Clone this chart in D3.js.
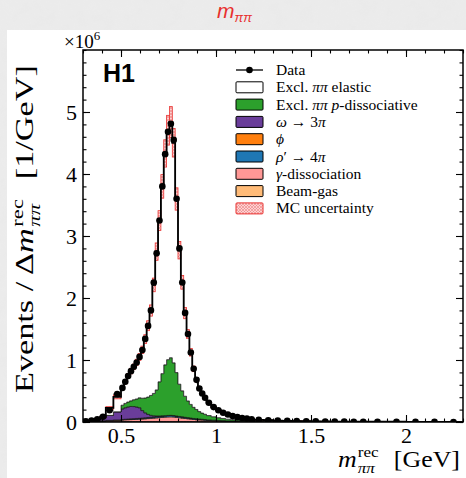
<!DOCTYPE html>
<html>
<head>
<meta charset="utf-8">
<script src="https://cdn.jsdelivr.net/npm/d3@7"></script>
<style>
  body { margin: 0; background: #e8e8e8; }
  svg { display: block; }
</style>
</head>
<body>
<svg id="chart" width="466" height="478"></svg>
<script>
// bin edges in GeV (variable binning)
var edges = [0.30,0.33,0.36,0.39,0.42,0.46,0.50,
  0.515,0.53,0.545,0.56,0.575,0.59,0.605,0.62,0.635,0.65,0.665,0.68,0.695,0.71,
  0.725,0.74,0.755,0.77,0.785,0.80,0.815,0.83,0.845,0.86,0.875,0.89,0.905,0.92,0.935,0.95,
  0.975,1.00,1.025,1.05,1.075,1.10,1.125,1.15,1.175,1.20,
  1.25,1.30,1.35,1.40,1.45,1.50,1.55,1.60,1.65,1.70,1.75,1.80,
  1.90,2.00,2.10,2.20,2.30];

// all values in units of 10^6 events / GeV
var data = [0.012,0.022,0.045,0.085,0.19,0.45,
  0.55,0.65,0.74,0.82,0.89,0.96,1.05,1.16,1.34,1.55,1.80,2.25,2.72,3.25,3.80,4.32,4.68,4.81,4.55,3.60,2.80,2.25,1.76,1.42,1.12,0.86,0.68,0.54,0.46,0.39,
  0.31,0.24,0.19,0.15,0.12,0.095,0.08,0.065,0.055,0.045,
  0.035,0.028,0.022,0.018,0.015,0.012,0.010,0.008,0.007,0.006,0.005,0.004,
  0.003,0.002,0.002,0.0015,0.001];

var elastic = [0.004,0.005,0.012,0.025,0.12,0.24,
  0.28,0.35,0.42,0.48,0.53,0.59,0.66,0.78,0.95,1.15,1.37,1.75,2.23,2.60,3.02,3.41,3.70,3.80,3.55,2.80,2.16,1.75,1.34,1.08,0.84,0.62,0.48,0.37,0.31,0.265,
  0.205,0.155,0.12,0.093,0.074,0.057,0.047,0.038,0.032,0.025,
  0.019,0.015,0.011,0.009,0.007,0.005,0.004,0.003,0.002,0.002,0.001,0.001,
  0.001,0.001,0.001,0.0005,0.0005];

var pDiss = [0,0,0,0,0,0,
  0.06,0.07,0.08,0.09,0.11,0.13,0.16,0.20,0.24,0.28,0.32,0.36,0.42,0.55,0.68,0.82,0.90,0.93,0.85,0.70,0.52,0.42,0.34,0.27,0.22,0.18,0.15,0.12,0.10,0.085,
  0.07,0.055,0.045,0.035,0.028,0.022,0.018,0.015,0.012,0.010,
  0.008,0.006,0.005,0.004,0.003,0.003,0.002,0.002,0.002,0.001,0.001,0.001,
  0.001,0.001,0.0005,0,0];

var omega = [0.003,0.008,0.02,0.04,0.08,0.13,
  0.17,0.185,0.195,0.20,0.195,0.185,0.17,0.12,0.08,0.05,0.03,0.018,0.01,0.005,0.002,0,0,0,0,0,0,0,0,0,0,0,0,0,0,0,
  0,0,0,0,0,0,0,0,0,0,
  0,0,0,0,0,0,0,0,0,0,0,0,
  0,0,0,0,0];

var phi = [0.002,0.003,0.004,0.004,0.004,0.004,
  0.003,0.003,0.003,0.003,0.003,0.003,0.003,0.003,0.003,0.003,0.003,0.003,0.003,0.003,0.003,
  0.002,0.002,0.002,0.002,0.002,0.002,0.002,0.002,0.002,0.002,0.002,0.002,0.002,0.002,0.002,
  0.001,0.001,0.001,0.001,0.001,0.001,0.001,0.001,0.001,0.001,
  0,0,0,0,0,0,0,0,0,0,0,0,
  0,0,0,0,0];

var rhoPrime = [0,0,0.001,0.002,0.003,0.004,
  0.006,0.007,0.008,0.009,0.010,0.011,0.012,0.013,0.014,0.015,0.016,0.017,0.018,0.019,0.020,0.021,0.022,0.022,0.021,0.020,0.019,0.018,0.017,0.016,0.015,0.014,0.013,0.012,0.011,0.010,
  0.009,0.008,0.007,0.006,0.005,0.004,0.004,0.003,0.003,0.003,
  0.002,0.002,0.002,0.002,0.002,0.002,0.001,0.001,0.001,0.001,0.001,0.001,
  0.001,0.001,0,0,0];

var gammaDiss = [0.002,0.004,0.006,0.010,0.015,0.020,
  0.025,0.028,0.030,0.032,0.034,0.036,0.038,0.041,0.044,0.048,0.052,0.056,0.060,0.064,0.068,0.072,0.075,0.076,0.074,0.068,0.062,0.056,0.050,0.045,0.040,0.035,0.031,0.028,0.025,0.022,
  0.019,0.016,0.013,0.011,0.009,0.008,0.007,0.006,0.005,0.004,
  0.004,0.003,0.003,0.002,0.002,0.002,0.001,0.001,0.001,0.001,0.001,0.001,
  0.001,0.001,0,0,0];

var beamGas = [0.001,0.002,0.003,0.004,0.005,0.006,
  0.007,0.007,0.007,0.007,0.007,0.007,0.007,0.007,0.007,0.007,0.007,0.007,0.007,0.007,0.007,0.007,0.007,0.007,0.007,0.007,0.007,0.007,0.007,0.007,0.007,
  0.006,0.006,0.006,0.006,0.006,
  0.005,0.005,0.004,0.004,0.003,0.003,0.003,0.002,0.002,0.002,
  0.002,0.002,0.001,0.001,0.001,0.001,0.001,0.001,0.001,0.001,0.001,0.001,
  0.001,0.001,0.001,0.001,0.001];

var mcErr = [0.002,0.003,0.005,0.008,0.02,0.03,
  0.03,0.035,0.04,0.045,0.045,0.05,0.055,0.06,0.07,0.08,0.09,0.11,0.14,0.16,0.19,0.22,0.24,0.25,0.23,0.18,0.14,0.11,0.09,0.07,0.06,0.045,0.035,0.03,0.025,0.02,
  0.018,0.014,0.011,0.009,0.007,0.006,0.005,0.004,0.004,0.003,
  0.003,0.002,0.002,0.002,0.001,0.001,0.001,0.001,0.001,0.001,0.001,0.001,
  0.001,0.001,0.001,0.001,0.001];

var xTicks = [0.5, 1, 1.5, 2];
var xTickLabels = ["0.5", "1", "1.5", "2"];
var yTicks = [0, 1, 2, 3, 4, 5];

var legendLabels = ["Data", "Excl. *ππ* elastic", "Excl. *ππ* *p*-dissociative", "*ω* → 3*π*",
  "*ϕ*", "*ρ*′ → 4*π*", "*γ*-dissociation", "Beam-gas", "MC uncertainty"];

// stack order, bottom to top
var keys = ["beamGas", "gammaDiss", "rhoPrime", "phi", "omega", "pDiss", "elastic"];
var components = {
  beamGas: beamGas, gammaDiss: gammaDiss, rhoPrime: rhoPrime, phi: phi,
  omega: omega, pDiss: pDiss, elastic: elastic
};
var colors = {
  beamGas: "#ffbb78", gammaDiss: "#ff9896", rhoPrime: "#1f77b4", phi: "#ff7f0e",
  omega: "#6a3d9a", pDiss: "#2ca02c", elastic: "#ffffff"
};
var legendKeys = [null, "elastic", "pDiss", "omega", "phi", "rhoPrime", "gammaDiss", "beamGas", "mc"];

(function() {
  var serif = "'Liberation Serif', 'Times New Roman', serif";

  var svg = d3.select("#chart");
  var width = 466, height = 478;
  var pl = 83, pr = 463, pt = 50, pb = 422;

  var x = d3.scaleLinear().domain([0.3, 2.3]).range([pl, pr]);
  var y = d3.scaleLinear().domain([0, 6]).range([pb, pt]);

  var defs = svg.append("defs");
  var grain = defs.append("filter").attr("id", "grain");
  grain.append("feTurbulence").attr("type", "fractalNoise").attr("baseFrequency", 0.07)
    .attr("numOctaves", 3).attr("seed", 4);
  grain.append("feColorMatrix").attr("type", "matrix")
    .attr("values", "0 0 0 0 0.78  0 0 0 0 0.78  0 0 0 0 0.78  0 0 0 0.55 0");

  var hatch = defs.append("pattern").attr("id", "hatch").attr("patternUnits", "userSpaceOnUse")
    .attr("width", 3).attr("height", 3);
  hatch.append("rect").attr("width", 3).attr("height", 3).attr("fill", "#fbd4d4");
  hatch.append("path").attr("d", "M0,3L3,0M0,0L3,3").attr("stroke", "#f08080").attr("stroke-width", 0.6);

  defs.append("clipPath").attr("id", "plot-clip").append("rect")
    .attr("x", pl).attr("y", pt).attr("width", pr - pl).attr("height", pb - pt);

  // slide background
  svg.append("rect").attr("width", width).attr("height", height).attr("fill", "#ececec");
  svg.append("rect").attr("width", width).attr("height", height).attr("filter", "url(#grain)").attr("opacity", 0.5);
  svg.append("rect").attr("x", 7).attr("y", 30).attr("width", width - 7).attr("height", height - 30).attr("fill", "#ffffff");

  // title
  var title = svg.append("text").attr("x", 217).attr("y", 18)
    .attr("font-family", "'Liberation Sans', Arial, sans-serif").attr("fill", "#e8302e")
    .attr("font-style", "italic");
  title.append("tspan").attr("font-size", 21).text("m");
  title.append("tspan").attr("font-size", 13).attr("dy", 4).text("ππ");

  // stacked histograms
  var rows = data.map(function(d, i) {
    var r = {};
    keys.forEach(function(k) { r[k] = components[k][i]; });
    return r;
  });
  var series = d3.stack().keys(keys)(rows);

  function stepPoints(s) {
    var pts = [];
    s.forEach(function(d, i) {
      pts.push({ m: edges[i], lo: d[0], hi: d[1] });
      pts.push({ m: edges[i + 1], lo: d[0], hi: d[1] });
    });
    return pts;
  }

  var area = d3.area()
    .x(function(p) { return x(p.m); })
    .y0(function(p) { return y(p.lo); })
    .y1(function(p) { return y(p.hi); });

  var plot = svg.append("g").attr("clip-path", "url(#plot-clip)");

  plot.selectAll("path.stack")
    .data(series)
    .enter().append("path")
      .attr("class", "stack")
      .attr("d", function(s) { return area(stepPoints(s)); })
      .attr("fill", function(s) { return colors[s.key]; })
      .attr("stroke", "#1a1a1a")
      .attr("stroke-width", 0.7);

  // MC uncertainty boxes
  var totals = series[series.length - 1].map(function(d) { return d[1]; });
  plot.selectAll("rect.mc")
    .data(totals)
    .enter().append("rect")
      .attr("class", "mc")
      .attr("x", function(d, i) { return x(edges[i]); })
      .attr("width", function(d, i) { return x(edges[i + 1]) - x(edges[i]); })
      .attr("y", function(d, i) { return y(d + mcErr[i]); })
      .attr("height", function(d, i) { return y(d - mcErr[i]) - y(d + mcErr[i]); })
      .attr("fill", "url(#hatch)")
      .attr("stroke", "#e8302e")
      .attr("stroke-width", 0.8);

  // total MC outline
  var line = d3.line()
    .x(function(p) { return x(p.m); })
    .y(function(p) { return y(p.hi); });
  plot.append("path")
    .attr("d", line(stepPoints(series[series.length - 1])))
    .attr("fill", "none")
    .attr("stroke", "#000")
    .attr("stroke-width", 1.8);

  // data points
  var pts = plot.selectAll("g.data")
    .data(data)
    .enter().append("g").attr("class", "data");
  pts.append("line")
    .attr("x1", function(d, i) { return x(edges[i]); })
    .attr("x2", function(d, i) { return x(edges[i + 1]); })
    .attr("y1", function(d) { return y(d); })
    .attr("y2", function(d) { return y(d); })
    .attr("stroke", "#000").attr("stroke-width", 1.2);
  pts.append("circle")
    .attr("cx", function(d, i) { return x((edges[i] + edges[i + 1]) / 2); })
    .attr("cy", function(d) { return y(d); })
    .attr("r", 3.3)
    .attr("fill", "#000");

  // axes with inward ticks
  function styleAxis(g, labels) {
    g.select(".domain").remove();
    g.selectAll(".tick line").attr("stroke", "#000").attr("stroke-width", 1.1);
    if (labels) {
      g.selectAll(".tick text").attr("font-family", serif).attr("font-size", 22).attr("fill", "#000");
    } else {
      g.selectAll(".tick text").remove();
    }
  }

  svg.append("g").attr("transform", "translate(0," + pb + ")")
    .call(d3.axisBottom(x).ticks(20).tickSize(-3.5)).call(styleAxis, false);
  svg.append("g").attr("transform", "translate(0," + pb + ")")
    .call(d3.axisBottom(x).tickValues(xTicks).tickSize(-7).tickPadding(5)
      .tickFormat(function(d, i) { return xTickLabels[i]; }))
    .call(styleAxis, true);
  svg.append("g").attr("transform", "translate(0," + pt + ")")
    .call(d3.axisTop(x).ticks(20).tickSize(-3.5)).call(styleAxis, false);
  svg.append("g").attr("transform", "translate(0," + pt + ")")
    .call(d3.axisTop(x).tickValues(xTicks).tickSize(-7)).call(styleAxis, false);

  svg.append("g").attr("transform", "translate(" + pl + ",0)")
    .call(d3.axisLeft(y).ticks(30).tickSize(-3.5)).call(styleAxis, false);
  svg.append("g").attr("transform", "translate(" + pl + ",0)")
    .call(d3.axisLeft(y).tickValues(yTicks).tickSize(-7).tickPadding(6).tickFormat(d3.format("d")))
    .call(styleAxis, true);
  svg.append("g").attr("transform", "translate(" + pr + ",0)")
    .call(d3.axisRight(y).ticks(30).tickSize(-3.5)).call(styleAxis, false);
  svg.append("g").attr("transform", "translate(" + pr + ",0)")
    .call(d3.axisRight(y).tickValues(yTicks).tickSize(-7)).call(styleAxis, false);

  svg.append("rect")
    .attr("x", pl).attr("y", pt).attr("width", pr - pl).attr("height", pb - pt)
    .attr("fill", "none").attr("stroke", "#000").attr("stroke-width", 1.5);

  // x10^6 multiplier
  var mult = svg.append("text").attr("x", 64).attr("y", 48)
    .attr("font-family", serif).attr("font-size", 19);
  mult.append("tspan").text("×10");
  mult.append("tspan").attr("font-size", 13).attr("dy", -8).text("6");

  // H1 logo
  svg.append("text").attr("x", 103).attr("y", 82)
    .attr("font-family", "'Liberation Sans', Arial, sans-serif").attr("font-weight", "bold")
    .attr("font-size", 25).text("H1");

  // math-style axis titles: m with stacked rec / ππ
  function mathTitle(g, before, after, size) {
    var t = g.append("text").attr("font-family", serif).attr("font-size", size);
    t.append("tspan").text(before);
    t.append("tspan").attr("font-style", "italic").text("m");
    var w = t.node().getComputedTextLength();
    var sup = g.append("text").attr("x", w + 1).attr("y", -size * 0.42)
      .attr("font-family", serif).attr("font-size", size * 0.66).text("rec");
    var sub = g.append("text").attr("x", w + 1).attr("y", size * 0.26)
      .attr("font-family", serif).attr("font-size", size * 0.66).attr("font-style", "italic").text("ππ");
    var w2 = Math.max(sup.node().getComputedTextLength(), sub.node().getComputedTextLength());
    var a = g.append("text").attr("x", w + w2 + 3).attr("font-family", serif).attr("font-size", size)
      .text(after);
    return w + w2 + 3 + a.node().getComputedTextLength();
  }

  // Computer-Modern-like proportions: slight stretch along the text direction
  var xt = svg.append("g");
  var xw = mathTitle(xt, "", "\u2002[GeV]", 23);
  var kx = 122 / xw;
  xt.attr("transform", "translate(" + (460 - xw * kx) + ",467) scale(" + kx + ",1)");

  var yt = svg.append("g");
  var yw = mathTitle(yt, "Events /\u2009Δ", "\u2002[1/GeV]", 25);
  var ky = 328 / yw;
  yt.attr("transform", "translate(33,229) rotate(-90) scale(" + ky + ",1) translate(" + (-yw / 2) + ",0)");

  // legend
  var legend = svg.append("g");
  legendLabels.forEach(function(lab, i) {
    var cy = 70 + 17.3 * i;
    var k = legendKeys[i];
    if (k === null) {
      legend.append("line").attr("x1", 236).attr("x2", 263).attr("y1", cy).attr("y2", cy)
        .attr("stroke", "#000").attr("stroke-width", 1.3);
      legend.append("circle").attr("cx", 249.5).attr("cy", cy).attr("r", 3.3).attr("fill", "#000");
    } else {
      legend.append("rect").attr("x", 236).attr("y", cy - 5.5).attr("width", 27).attr("height", 11)
        .attr("rx", 1)
        .attr("fill", k === "mc" ? "url(#hatch)" : colors[k])
        .attr("stroke", k === "mc" ? "#e8302e" : "#000").attr("stroke-width", 1);
    }
    var t = legend.append("text").attr("x", 276).attr("y", cy + 5)
      .attr("font-family", serif).attr("font-size", 15.5);
    lab.split("*").forEach(function(part, j) {
      if (part === "") return;
      t.append("tspan").attr("font-style", j % 2 ? "italic" : null).text(part);
    });
  });
})();
</script>
</body>
</html>
